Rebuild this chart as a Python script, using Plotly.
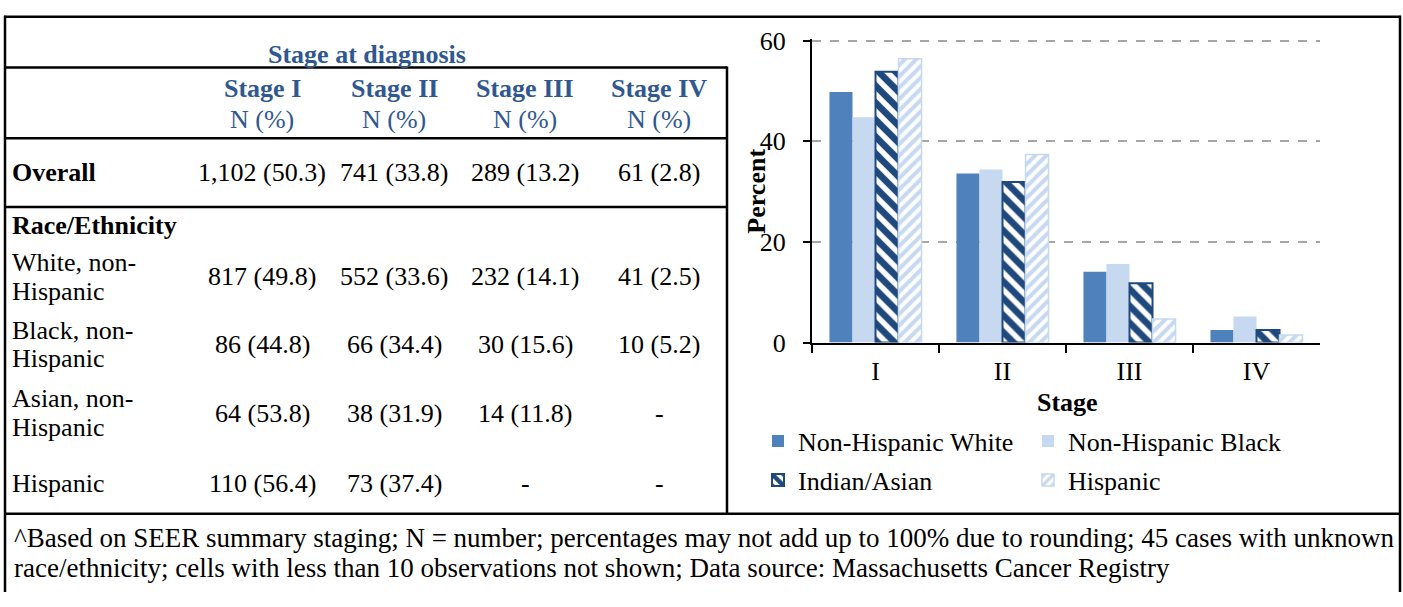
import plotly.graph_objects as go

W, H = 1403, 607
FONT = "Liberation Serif"
BLUE_TXT = "#2F5891"

# ---------------- data ----------------
stages = ["I", "II", "III", "IV"]
white_pct = [49.8, 33.6, 14.1, 2.5]
black_pct = [44.8, 34.4, 15.6, 5.2]
asian_pct = [53.8, 31.9, 11.8, 2.5]
hispanic_pct = [56.4, 37.4, 4.7, 1.5]
series_names = ["Non-Hispanic White", "Non-Hispanic Black", "Indian/Asian", "Hispanic"]
y_ticks = [0, 20, 40, 60]

table_title = "Stage at diagnosis"
table_cols = ["Stage I", "Stage II", "Stage III", "Stage IV"]
table_sub = "N (%)"
overall_label = "Overall"
overall_row = ["1,102 (50.3)", "741 (33.8)", "289 (13.2)", "61 (2.8)"]
group_label = "Race/Ethnicity"
race_labels = [["White, non-", "Hispanic"], ["Black, non-", "Hispanic"],
               ["Asian, non-", "Hispanic"], ["Hispanic"]]
race_rows = [
    ["817 (49.8)", "552 (33.6)", "232 (14.1)", "41 (2.5)"],
    ["86 (44.8)", "66 (34.4)", "30 (15.6)", "10 (5.2)"],
    ["64 (53.8)", "38 (31.9)", "14 (11.8)", "-"],
    ["110 (56.4)", "73 (37.4)", "-", "-"],
]
footnote_lines = [
    "^Based on SEER summary staging; N = number; percentages may not add up to 100% due to rounding; 45 cases with unknown",
    "race/ethnicity; cells with less than 10 observations not shown; Data source: Massachusetts Cancer Registry",
]


def px(x):
    return x / W


def py(y):
    return 1 - y / H


fig = go.Figure()

fig.add_trace(go.Bar(x=stages, y=white_pct, name=series_names[0],
                     marker=dict(color="#4F81BD", line=dict(width=0)), legend="legend"))
fig.add_trace(go.Bar(x=stages, y=black_pct, name=series_names[1],
                     marker=dict(color="#C6D9F1", line=dict(width=0)), legend="legend"))
fig.add_trace(go.Bar(x=stages, y=asian_pct, name=series_names[2],
                     marker=dict(color="white", line=dict(color="#1F497D", width=2),
                                 pattern=dict(shape="\\", fgcolor="#1F497D", bgcolor="white",
                                              fgopacity=1, size=12, solidity=0.55)),
                     legend="legend2"))
fig.add_trace(go.Bar(x=stages, y=hispanic_pct, name=series_names[3],
                     marker=dict(color="white", line=dict(color="#C6D9F1", width=1.5),
                                 pattern=dict(shape="/", fgcolor="#C6D9F1", bgcolor="white",
                                              fgopacity=1, size=8, solidity=0.5)),
                     legend="legend2"))

annotations = []


def txt(x, y, s, size=26, bold=False, color="black", xanchor="center"):
    if bold:
        s = "<b>" + s + "</b>"
    annotations.append(dict(x=px(x), y=py(y), xref="paper", yref="paper", text=s,
                            showarrow=False, xanchor=xanchor, yanchor="middle",
                            font=dict(family=FONT, size=size, color=color)))


col_x = [262, 394, 525, 659]
txt(367, 44, table_title, bold=True, color=BLUE_TXT)
for cx, c in zip(col_x, table_cols):
    txt(cx, 80, c, bold=True, color=BLUE_TXT)
    txt(cx, 113, table_sub, color=BLUE_TXT)
txt(10, 168, overall_label, bold=True, xanchor="left")
for cx, v in zip(col_x, overall_row):
    txt(cx, 168, v)
txt(10, 223, group_label, bold=True, xanchor="left")
row_y = [277, 348, 420, 493]
for ry, lab, vals in zip(row_y, race_labels, race_rows):
    if len(lab) == 2:
        txt(10, ry - 15, lab[0], xanchor="left")
        txt(10, ry + 15, lab[1], xanchor="left")
    else:
        txt(10, ry, lab[0], xanchor="left")
    for cx, v in zip(col_x, vals):
        txt(cx, ry, v)

txt(12, 550, footnote_lines[0], size=27, xanchor="left")
txt(12, 582, footnote_lines[1], size=27, xanchor="left")

# axis titles
annotations.append(dict(x=px(757), y=py(188), xref="paper", yref="paper", text="<b>Percent</b>",
                        showarrow=False, textangle=-90, xanchor="center", yanchor="middle",
                        font=dict(family=FONT, size=26, color="black")))
txt(1067, 409, "Stage", bold=True)

shapes = []


def line(x0, y0, x1, y1, w=2.5):
    shapes.append(dict(type="line", xref="paper", yref="paper", x0=px(x0), y0=py(y0),
                       x1=px(x1), y1=py(y1), line=dict(color="black", width=w)))


line(4, 5, 1401, 5)
line(5, 4, 5, 607)
line(1400, 4, 1400, 607)
line(4, 525, 1401, 525)
line(5, 58, 727, 58)
line(5, 132, 727, 132)
line(5, 204, 727, 204)
line(727, 57, 727, 526)

axis_font = dict(family=FONT, size=26, color="black")
y_top = 60.3
y_dom_top = 346 - (346 - 30) * y_top / 60.0
fig.update_layout(
    width=W, height=H,
    margin=dict(l=0, r=0, t=0, b=0),
    paper_bgcolor="white", plot_bgcolor="white",
    barmode="group", bargap=0.275, bargroupgap=0,
    font=dict(family=FONT, size=26, color="black"),
    annotations=annotations, shapes=shapes,
    xaxis=dict(domain=[px(812), px(1320)], showline=True, linecolor="black", linewidth=2,
               ticks="outside", tickson="boundaries", ticklen=8, tickwidth=2, tickcolor="black",
               tickfont=axis_font, showgrid=False, ticklabelstandoff=4, fixedrange=True),
    yaxis=dict(domain=[py(346), py(y_dom_top)], range=[0, y_top], tickvals=y_ticks,
               showline=True, linecolor="black", linewidth=2, ticks="outside", ticklen=7,
               tickwidth=2, tickcolor="black", tickfont=axis_font, showgrid=True,
               gridcolor="#A6A6A6", gridwidth=2, griddash="dash", zeroline=False,
               ticklabelstandoff=12, fixedrange=True),
    legend=dict(x=px(758), y=py(449), xanchor="left", yanchor="middle", orientation="h",
                entrywidth=225, entrywidthmode="pixels", font=axis_font,
                bgcolor="rgba(0,0,0,0)", borderwidth=0),
    legend2=dict(x=px(758), y=py(490), xanchor="left", yanchor="middle", orientation="h",
                 entrywidth=225, entrywidthmode="pixels", font=axis_font,
                 bgcolor="rgba(0,0,0,0)", borderwidth=0),
    showlegend=True,
)

fig.write_html("out.html")
